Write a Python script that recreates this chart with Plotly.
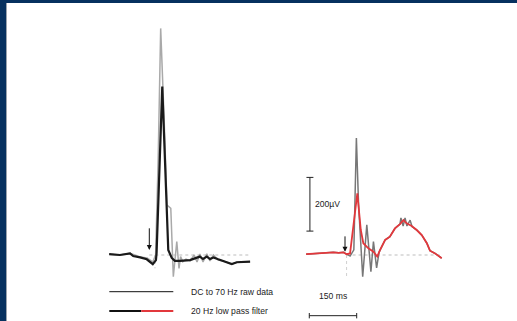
import plotly.graph_objects as go

# ---------------- data (time in ms relative to stimulus, amplitude in µV) ----------------
left_t_filt = [-127, -93, -61, -51, -29, -8, 11, 21, 23, 41, 60, 71, 81, 97, 129, 150, 160, 170, 182, 192, 203, 218, 234, 261, 277, 319]
left_v_filt = [3, 0, 6, -4, -9, -16, -34, -19, 7, 627, 19, -11, -22, -22, -19, -12, -6, -15, -6, -15, -9, -16, -22, -34, -27, -25]

left_t_raw = [-127, -93, -61, -29, -7, 11, 18, 20, 28, 36, 47, 56, 68, 76, 87, 94, 99, 106, 116, 129, 142, 151, 160, 170, 182, 192, 203, 218, 234, 261, 277, 319]
left_v_raw = [3, 0, 6, -7, -11, -26, -6, 0, 354, 844, 503, 186, 174, -81, 50, -50, -6, -25, -15, -22, 0, -26, 4, -26, 4, -22, 0, -19, -22, -34, -27, -25]

right_t_filt = [-123, -100, -79, -58, -37, -20, -5, 5, 16, 39, 50, 58, 74, 90, 102, 111, 127, 142, 158, 174, 185, 195, 211, 227, 243, 259, 269, 285, 306]
right_v_filt = [3, 5, 6, 8, 10, 8, 10, 3, 6, 230, 93, 44, 25, 12, -6, 19, 56, 68, 99, 115, 130, 118, 108, 93, 74, 44, 16, 6, -12]

right_t_raw = [-123, -100, -79, -58, -37, -20, -5, 5, 16, 28, 36, 43, 56, 69, 82, 90, 100, 108, 127, 142, 158, 174, 177, 184, 190, 196, 206, 212, 227, 243, 259, 269, 285, 306]
right_v_raw = [3, 5, 6, 8, 10, 8, 10, 3, -4, 19, 436, 186, -81, 112, -62, 50, -48, 11, 56, 68, 99, 115, 138, 108, 138, 108, 130, 106, 93, 74, 44, 16, 6, -12]

scale_uv = 200          # vertical scale bar, µV
scale_ms = 150          # horizontal scale bar, ms
legend_labels = ["DC to 70 Hz raw data", "20 Hz low pass filter"]
scale_uv_label = "200µV"
scale_ms_label = "150 ms"

# ---------------- layout calibration ----------------
W, H = 517, 321
PX_PER_MS = 0.316
PX_PER_UV = 0.2685
BASE_PX = 255.0
ONSET_L_PX = 149.3
ONSET_R_PX = 345.0
SPLIT_PX = 258.0

def xrange_for(onset, x0, x1):
    return [(x0 - onset) / PX_PER_MS, (x1 - onset) / PX_PER_MS]

yr = [(BASE_PX - H) / PX_PER_UV, BASE_PX / PX_PER_UV]

def px(x):
    return x / W

def py(y):
    return 1 - y / H

NAVY = "#06315f"
RED = "#e2383c"
FONT = "Liberation Sans, Arial, sans-serif"

fig = go.Figure()

fig.add_trace(go.Scatter(x=left_t_raw, y=left_v_raw, mode="lines",
                         line=dict(color="#a9a9a9", width=1.5), xaxis="x", yaxis="y"))
fig.add_trace(go.Scatter(x=left_t_filt, y=left_v_filt, mode="lines",
                         line=dict(color="#1a1a1a", width=2.2), xaxis="x", yaxis="y"))
fig.add_trace(go.Scatter(x=right_t_raw, y=right_v_raw, mode="lines",
                         line=dict(color="#777777", width=1.5), xaxis="x2", yaxis="y2"))
fig.add_trace(go.Scatter(x=right_t_filt, y=right_v_filt, mode="lines",
                         line=dict(color=RED, width=1.8), xaxis="x2", yaxis="y2"))

shapes = []
# navy frame + white panel
shapes.append(dict(type="rect", xref="paper", yref="paper", x0=px(6), x1=1, y0=0, y1=py(3),
                   fillcolor="white", line=dict(width=0), layer="below"))
shapes.append(dict(type="line", xref="paper", yref="paper", x0=px(6.5), x1=px(6.5), y0=0, y1=py(3),
                   line=dict(color="#9aa3ad", width=1), layer="below"))

# baselines and stimulus markers
shapes.append(dict(type="line", xref="x", yref="y", x0=0, x1=left_t_filt[-1], y0=0, y1=0,
                   line=dict(color="#bdbdbd", width=1, dash="dot"), layer="below"))
shapes.append(dict(type="line", xref="x2", yref="y2", x0=5, x1=right_t_filt[-1], y0=0, y1=0,
                   line=dict(color="#bdbdbd", width=1, dash="dot"), layer="below"))
shapes.append(dict(type="line", xref="x", yref="y", x0=18, x1=18, y0=0, y1=-50,
                   line=dict(color="#d0d0d0", width=1, dash="dot"), layer="below"))
shapes.append(dict(type="line", xref="x2", yref="y2", x0=5, x1=5, y0=0, y1=-82,
                   line=dict(color="#d0d0d0", width=1, dash="dot"), layer="below"))

# vertical scale bar (200 µV) on right axis
sx = -111
sy0, sy1 = 89, 89 + scale_uv
capw = 11
bar = dict(color="#222222", width=1)
shapes.append(dict(type="line", xref="x2", yref="y2", x0=sx, x1=sx, y0=sy0, y1=sy1, line=bar))
shapes.append(dict(type="line", xref="x2", yref="y2", x0=sx - capw, x1=sx + capw, y0=sy0, y1=sy0, line=bar))
shapes.append(dict(type="line", xref="x2", yref="y2", x0=sx - capw, x1=sx + capw, y0=sy1, y1=sy1, line=bar))

# horizontal scale bar (150 ms)
hx0, hx1 = -113, -113 + scale_ms
hy = -226
caph = 10
shapes.append(dict(type="line", xref="x2", yref="y2", x0=hx0, x1=hx1, y0=hy, y1=hy, line=bar))
shapes.append(dict(type="line", xref="x2", yref="y2", x0=hx0, x1=hx0, y0=hy - caph, y1=hy + caph, line=bar))
shapes.append(dict(type="line", xref="x2", yref="y2", x0=hx1, x1=hx1, y0=hy - caph, y1=hy + caph, line=bar))

# legend keys
shapes.append(dict(type="line", xref="paper", yref="paper", x0=px(109.3), x1=px(173.3),
                   y0=py(291.7), y1=py(291.7), line=dict(color="#111111", width=1)))
shapes.append(dict(type="line", xref="paper", yref="paper", x0=px(109.3), x1=px(141.3),
                   y0=py(311), y1=py(311), line=dict(color="#111111", width=2)))
shapes.append(dict(type="line", xref="paper", yref="paper", x0=px(141.3), x1=px(173.3),
                   y0=py(311), y1=py(311), line=dict(color=RED, width=2)))

annotations = []
tf = dict(family=FONT, size=8.6, color="#222222")
annotations.append(dict(xref="paper", yref="paper", x=px(189), y=py(291.5), text=legend_labels[0],
                        showarrow=False, xanchor="left", yanchor="middle", font=tf))
annotations.append(dict(xref="paper", yref="paper", x=px(189), y=py(311), text=legend_labels[1],
                        showarrow=False, xanchor="left", yanchor="middle", font=tf))
annotations.append(dict(xref="x2", yref="y2", x=(hx0 + hx1) / 2, y=hy + 75, text=scale_ms_label,
                        showarrow=False, xanchor="center", yanchor="middle", font=tf))
annotations.append(dict(xref="x2", yref="y2", x=sx + 10, y=(sy0 + sy1) / 2, text=scale_uv_label,
                        showarrow=False, xanchor="left", yanchor="middle", font=tf))
# stimulus arrows
annotations.append(dict(xref="x", yref="y", x=0, y=19, axref="x", ayref="y", ax=0, ay=105,
                        showarrow=True, arrowhead=2, arrowsize=1, arrowwidth=1, arrowcolor="#111111", text=""))
annotations.append(dict(xref="x2", yref="y2", x=0, y=12, axref="x2", ayref="y2", ax=0, ay=75,
                        showarrow=True, arrowhead=2, arrowsize=1, arrowwidth=1, arrowcolor="#111111", text=""))

axis_common = dict(visible=False, showgrid=False, zeroline=False, fixedrange=True)
fig.update_layout(
    width=W, height=H,
    margin=dict(l=0, r=0, t=0, b=0),
    paper_bgcolor=NAVY, plot_bgcolor="rgba(0,0,0,0)",
    showlegend=False,
    xaxis=dict(domain=[0, px(SPLIT_PX)], range=xrange_for(ONSET_L_PX, 0, SPLIT_PX), anchor="y", **axis_common),
    yaxis=dict(domain=[0, 1], range=yr, anchor="x", **axis_common),
    xaxis2=dict(domain=[px(SPLIT_PX), 1], range=xrange_for(ONSET_R_PX, SPLIT_PX, W), anchor="y2", **axis_common),
    yaxis2=dict(domain=[0, 1], range=yr, anchor="x2", **axis_common),
    shapes=shapes,
    annotations=annotations,
)

fig.write_html(
    "out.html",
    config={"displayModeBar": False, "staticPlot": True},
    post_script="document.body.style.margin='0px';document.body.style.padding='0px';document.body.style.overflow='hidden';",
)
